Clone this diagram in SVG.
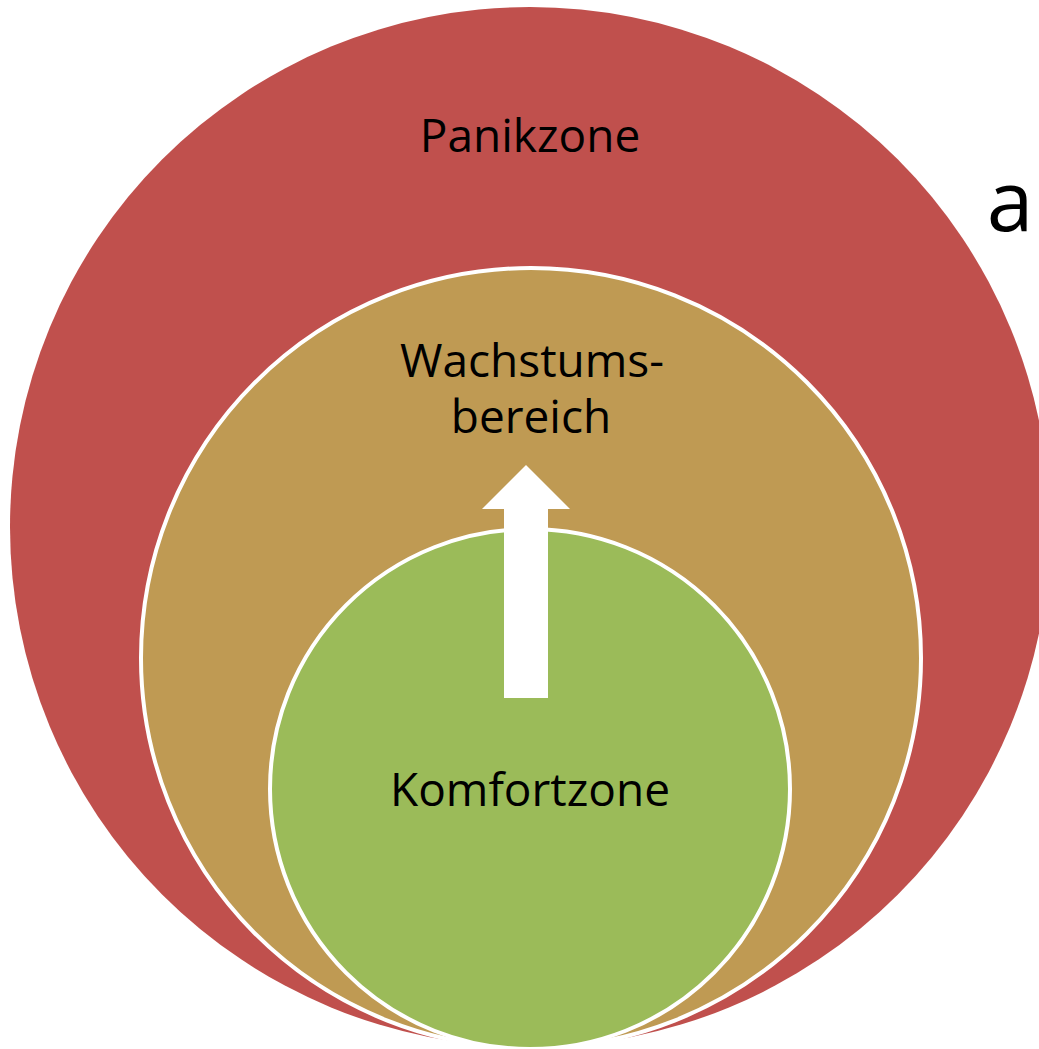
<svg xmlns="http://www.w3.org/2000/svg" width="1039" height="1049" viewBox="0 0 1039 1049">
<style>
.lbl{font-family:"Open Sans","Liberation Sans",sans-serif;font-size:46px;fill:#000;text-anchor:middle}
.ring{stroke:#fff;stroke-width:4}
</style>
<rect width="1039" height="1049" fill="#fff"/>
<g id="panikzone">
<circle cx="530" cy="527" r="520" fill="#C0504D"/>
<text class="lbl" x="530" y="152">Panikzone</text>
</g>
<g id="wachstumsbereich">
<circle class="ring" cx="531" cy="658" r="390" fill="#BF9A53"/>
<text class="lbl" x="532" y="377">Wachstums-</text>
<text class="lbl" x="531" y="433">bereich</text>
</g>
<g id="komfortzone">
<circle class="ring" cx="530" cy="789" r="260" fill="#9BBB59"/>
<text class="lbl" x="530" y="806">Komfortzone</text>
</g>
<g id="connectors">
<polygon points="526,465 570,509 548,509 548,698 504,698 504,509 482,509" fill="#fff"/>
</g>
<text x="1010" y="231" style="font-family:'Open Sans','Liberation Sans',sans-serif;font-size:84px;fill:#000;text-anchor:middle">a</text>
</svg>
